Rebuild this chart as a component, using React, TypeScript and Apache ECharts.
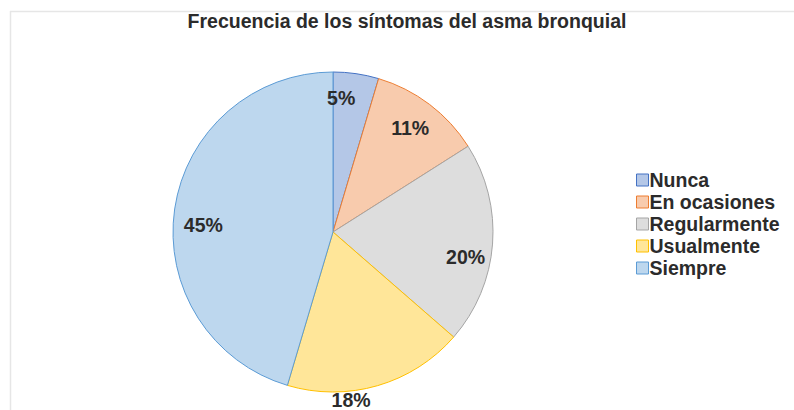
import React, { useEffect, useRef } from "react";
import * as echarts from "echarts";

const titleText = "Frecuencia de los síntomas del asma bronquial";
const categories = ["Nunca", "En ocasiones", "Regularmente", "Usualmente", "Siempre"];
const values = [4.6, 11.4, 20.4, 18.2, 45.4];
const fillColors = ["#b4c7e7", "#f8cbad", "#dddddd", "#ffe699", "#bdd7ee"];
const borderColors = ["#4472c4", "#ed7d31", "#a5a5a5", "#ffc000", "#5b9bd5"];

const FONT = "'Liberation Sans', Arial, sans-serif";
const TEXT = "#2b2b2b";
const FS = 19.5;

export default function App() {
  const ref = useRef<HTMLDivElement>(null);

  useEffect(() => {
    document.body.style.margin = "0";
    if (!ref.current) return;
    const chart = echarts.init(ref.current, null, { renderer: "svg" });

    const pieData = categories.map((name, i) => ({
      name,
      value: values[i],
      itemStyle: {
        color: fillColors[i],
        borderColor: borderColors[i],
        borderWidth: 1,
      },
    }));

    const labelData = categories.map((name, i) => ({
      name,
      value: values[i],
    }));

    chart.setOption({
      animation: false,
      backgroundColor: "#ffffff",
      title: {
        text: titleText,
        left: 402,
        textAlign: "center",
        top: 6,
        textStyle: {
          fontFamily: FONT,
          fontSize: FS,
          fontWeight: "bold",
          color: TEXT,
        },
      },
      legend: {
        orient: "vertical",
        left: 631,
        top: 164,
        itemWidth: 12,
        itemHeight: 12,
        itemGap: 0,
        icon: "rect",
        data: categories.map((name, i) => ({
          name,
          itemStyle: {
            color: fillColors[i],
            borderColor: borderColors[i],
            borderWidth: 1,
          },
        })),
        textStyle: {
          fontFamily: FONT,
          fontSize: FS,
          fontWeight: "bold",
          color: TEXT,
          lineHeight: 22,
          padding: [0, 0, 0, -4],
        },
      },
      graphic: [
        {
          type: "line",
          shape: { x1: 10, y1: 11.5, x2: 794, y2: 11.5 },
          style: { stroke: "#e6e6e6", lineWidth: 1.5 },
          silent: true,
        },
        {
          type: "line",
          shape: { x1: 10.5, y1: 11, x2: 10.5, y2: 410 },
          style: { stroke: "#e6e6e6", lineWidth: 1.5 },
          silent: true,
        },
      ],
      series: [
        {
          type: "pie",
          center: [333, 232],
          radius: [0, 160],
          startAngle: 90,
          clockwise: true,
          silent: true,
          label: { show: false },
          labelLine: { show: false },
          data: pieData,
        },
        {
          type: "pie",
          center: [333, 232],
          radius: [100, 160],
          startAngle: 90,
          clockwise: true,
          silent: true,
          itemStyle: { color: "rgba(0,0,0,0)", borderWidth: 0 },
          labelLine: { show: false },
          label: {
            show: true,
            position: "inside",
            fontFamily: FONT,
            fontSize: FS,
            fontWeight: "bold",
            color: TEXT,
            lineHeight: 16,
            formatter: (p: any) => Math.round(p.value) + "%",
          },
          labelLayout: (p: any) => {
            if (p.dataIndex === 0) return { dx: -11, dy: -2 };
            if (p.dataIndex === 1) return { dx: -3, dy: 2 };
            if (p.dataIndex === 2) return { dy: 15 };
            if (p.dataIndex === 3) return { dx: -19, dy: 40 };
            if (p.dataIndex === 4) return { dx: 2, dy: 12 };
            return {};
          },
          data: labelData,
        },
      ],
    });

    return () => chart.dispose();
  }, []);

  return (
    <div
      ref={ref}
      style={{ position: "absolute", left: 0, top: 0, width: 794, height: 410 }}
    />
  );
}
